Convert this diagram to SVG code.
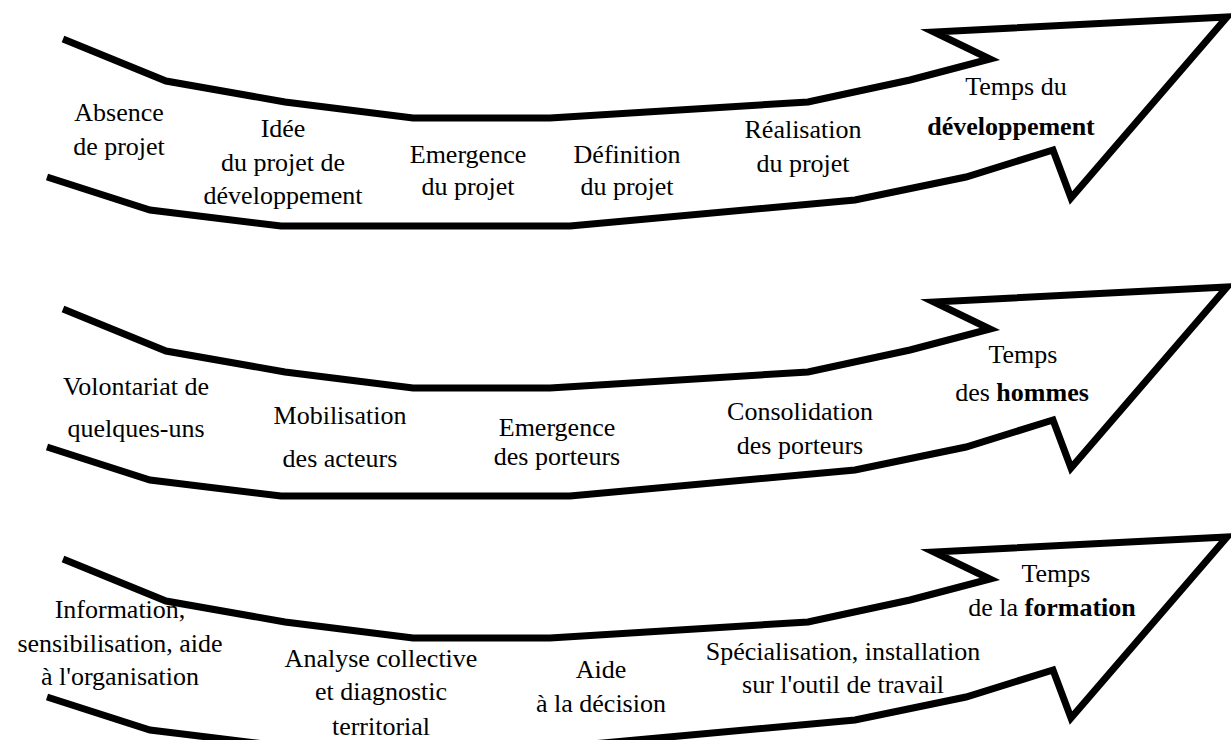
<svg xmlns="http://www.w3.org/2000/svg" width="1231" height="740" viewBox="0 0 1231 740">
<style>
.arrow{fill:none;stroke:#000;stroke-width:7;stroke-linejoin:miter;stroke-miterlimit:10;stroke-linecap:butt}
text{font-family:"Liberation Serif","Times New Roman",serif;font-size:26px;fill:#000;text-anchor:middle}
.b{font-weight:bold}
</style>
<defs>
<path id="arrowShape" class="arrow" d="M63,39 L166,81 L285,102 L413,118 L550,118 L808,102 L910,80 L990,59 L934,32 L1227,17 L1071,198 L1053,150 L966,177 L855,200 L570,226 L281,226 L150,210 L47,177"/>
</defs>
<rect width="1231" height="740" fill="#fff"/>
<g id="connectors"></g>
<g id="arrow-developpement"><use href="#arrowShape"/></g>
<g id="arrow-hommes"><use href="#arrowShape" transform="translate(0,270)"/></g>
<g id="arrow-formation"><use href="#arrowShape" transform="translate(0,520)"/></g>

<g id="n-absence"><text x="119" y="121">Absence</text><text x="119" y="155">de projet</text></g>
<g id="n-idee"><text x="283" y="137">Idée</text><text x="283" y="171">du projet de</text><text x="283" y="204">développement</text></g>
<g id="n-emergence1"><text x="468" y="163">Emergence</text><text x="468" y="195">du projet</text></g>
<g id="n-definition"><text x="627" y="163">Définition</text><text x="627" y="195">du projet</text></g>
<g id="n-realisation"><text x="803" y="138">Réalisation</text><text x="803" y="172">du projet</text></g>
<g id="n-temps-dev"><text x="1016" y="95">Temps du</text><text x="1011" y="135" class="b">développement</text></g>

<g id="n-volontariat"><text x="136" y="395">Volontariat de</text><text x="136" y="437">quelques-uns</text></g>
<g id="n-mobilisation"><text x="340" y="424">Mobilisation</text><text x="340" y="467">des acteurs</text></g>
<g id="n-emergence2"><text x="557" y="436">Emergence</text><text x="557" y="465">des porteurs</text></g>
<g id="n-consolidation"><text x="800" y="420">Consolidation</text><text x="800" y="454">des porteurs</text></g>
<g id="n-temps-hommes"><text x="1023" y="363">Temps</text><text x="1022" y="401">des <tspan class="b">hommes</tspan></text></g>

<g id="n-information"><text x="120" y="618">Information,</text><text x="120" y="652">sensibilisation, aide</text><text x="120" y="685">à l'organisation</text></g>
<g id="n-analyse"><text x="381" y="667">Analyse collective</text><text x="381" y="700">et diagnostic</text><text x="381" y="735">territorial</text></g>
<g id="n-aide"><text x="601" y="678">Aide</text><text x="601" y="712">à la décision</text></g>
<g id="n-specialisation"><text x="843" y="660">Spécialisation, installation</text><text x="843" y="693">sur l'outil de travail</text></g>
<g id="n-temps-formation"><text x="1056" y="582">Temps</text><text x="1052" y="616">de la <tspan class="b">formation</tspan></text></g>
</svg>
